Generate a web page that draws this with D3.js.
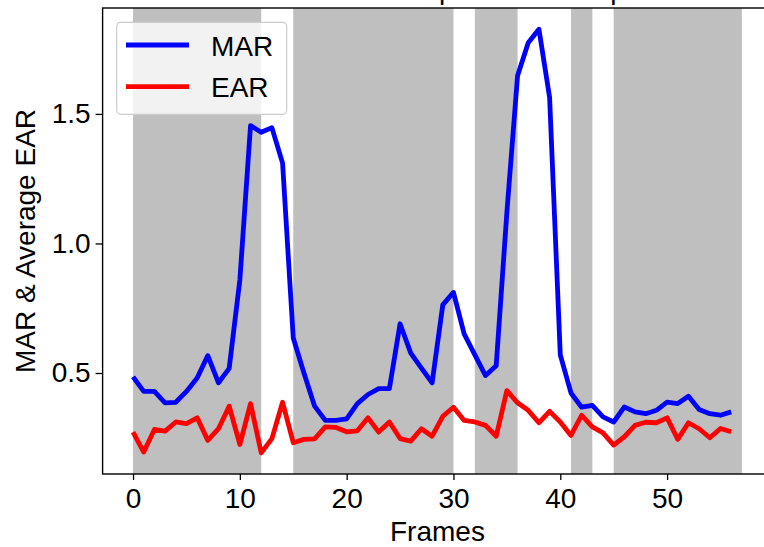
<!DOCTYPE html>
<html>
<head>
<meta charset="utf-8">
<script src="https://cdn.jsdelivr.net/npm/d3@7"></script>
<style>
  body { margin: 0; background: #fff; }
  svg { display: block; font-family: "Liberation Sans", Arial, sans-serif; }
</style>
</head>
<body>
<script>
// ---- data ----
const frames = d3.range(0, 57);
const marValues = [0.485, 0.429, 0.429, 0.385, 0.387, 0.429, 0.481, 0.567, 0.462, 0.518,
  0.859, 1.455, 1.429, 1.447, 1.31, 0.635, 0.5, 0.372, 0.317, 0.317,
  0.323, 0.382, 0.417, 0.44, 0.44, 0.69, 0.577, 0.519, 0.462, 0.763,
  0.811, 0.651, 0.57, 0.49, 0.528, 1.12, 1.647, 1.775, 1.827, 1.564,
  0.57, 0.423, 0.368, 0.375, 0.331, 0.311, 0.369, 0.35, 0.343, 0.356,
  0.388, 0.382, 0.41, 0.359, 0.343, 0.337, 0.35];
const earValues = [0.272, 0.195, 0.282, 0.276, 0.311, 0.305, 0.327, 0.24, 0.285, 0.372,
  0.224, 0.382, 0.192, 0.247, 0.387, 0.231, 0.244, 0.246, 0.292, 0.29,
  0.273, 0.277, 0.327, 0.272, 0.311, 0.247, 0.237, 0.285, 0.256, 0.333,
  0.368, 0.317, 0.311, 0.298, 0.256, 0.432, 0.385, 0.356, 0.308, 0.352,
  0.311, 0.259, 0.337, 0.292, 0.269, 0.222, 0.254, 0.298, 0.31, 0.308,
  0.327, 0.244, 0.308, 0.285, 0.25, 0.286, 0.273];
// shaded frame ranges
const spanStart = [0, 15, 32, 41, 45];
const spanEnd = [12, 30, 36, 43, 57];
const xTicks = [0, 10, 20, 30, 40, 50];
const yTicks = [0.5, 1.0, 1.5];

const width = 764, height = 547;
// axes box (right edge sits outside the picture, like the original crop)
const axLeft = 102.6, axRight = 772.3, axTop = 8, axBottom = 474;

const svg = d3.select('body').append('svg')
  .attr('width', width)
  .attr('height', height);

// matplotlib style 5% margins
const xMin = 0, xMax = d3.max(spanEnd);
const xPad = (xMax - xMin) * 0.05;
const x = d3.scaleLinear().domain([xMin - xPad, xMax + xPad]).range([axLeft, axRight]);

const allY = marValues.concat(earValues);
const yLo = d3.min(allY), yHi = d3.max(allY);
const yPad = (yHi - yLo) * 0.05;
const y = d3.scaleLinear().domain([yLo - yPad, yHi + yPad]).range([axBottom, axTop]);

// ---- shaded spans ----
svg.append('g')
  .selectAll('rect')
  .data(spanStart.map((s, i) => [s, spanEnd[i]]))
  .join('rect')
    .attr('x', d => x(d[0]))
    .attr('y', axTop)
    .attr('width', d => x(d[1]) - x(d[0]))
    .attr('height', axBottom - axTop)
    .attr('fill', '#bfbfbf');

// ---- lines ----
const line = vals => d3.line()
  .x((d, i) => x(frames[i]))
  .y(d => y(d))(vals);

svg.append('path')
  .attr('d', line(marValues))
  .attr('fill', 'none')
  .attr('stroke', '#0000ff')
  .attr('stroke-width', 4.8)
  .attr('stroke-linejoin', 'round');

svg.append('path')
  .attr('d', line(earValues))
  .attr('fill', 'none')
  .attr('stroke', '#ff0000')
  .attr('stroke-width', 4.8)
  .attr('stroke-linejoin', 'round');

// ---- axes ----
const xAxis = svg.append('g')
  .attr('transform', `translate(0,${axBottom})`)
  .call(d3.axisBottom(x).tickValues(xTicks).tickSize(6).tickPadding(8));
const yAxis = svg.append('g')
  .attr('transform', `translate(${axLeft},0)`)
  .call(d3.axisLeft(y).tickValues(yTicks).tickFormat(d3.format('.1f')).tickSize(7).tickPadding(5));

[xAxis, yAxis].forEach(a => {
  a.select('.domain').remove();
  a.selectAll('line').attr('stroke', '#000').attr('stroke-width', 1.3);
  a.selectAll('text')
    .attr('fill', '#000')
    .style('font-size', '28px')
    .style('font-family', '"Liberation Sans", Arial, sans-serif');
});

// spines
svg.append('rect')
  .attr('x', axLeft).attr('y', axTop)
  .attr('width', axRight - axLeft).attr('height', axBottom - axTop)
  .attr('fill', 'none')
  .attr('stroke', '#000')
  .attr('stroke-width', 1.4);

// ---- labels ----
svg.append('text')
  .attr('x', (axLeft + axRight) / 2)
  .attr('y', 541)
  .attr('text-anchor', 'middle')
  .style('font-size', '28px')
  .text('Frames');

svg.append('text')
  .attr('transform', `translate(35,${(axTop + axBottom) / 2}) rotate(-90)`)
  .attr('text-anchor', 'middle')
  .style('font-size', '28px')
  .text('MAR & Average EAR');

// title, mostly above the top of the picture
svg.append('text')
  .attr('x', (axLeft + axRight) / 2)
  .attr('y', -1)
  .attr('text-anchor', 'middle')
  .style('font-size', '28px')
  .text('MAR and EAR plot for this clip');

// ---- legend ----
const legend = svg.append('g');
legend.append('rect')
  .attr('x', 116.7).attr('y', 22.3)
  .attr('width', 170).attr('height', 92)
  .attr('rx', 4)
  .attr('fill', '#fff').attr('fill-opacity', 0.8)
  .attr('stroke', '#cccccc').attr('stroke-width', 1.2);

const legendItems = [['MAR', '#0000ff'], ['EAR', '#ff0000']];
legendItems.forEach((item, i) => {
  const ly = 45 + i * 41.7;
  legend.append('line')
    .attr('x1', 126).attr('x2', 189)
    .attr('y1', ly).attr('y2', ly)
    .attr('stroke', item[1])
    .attr('stroke-width', 4.8);
  legend.append('text')
    .attr('x', 211)
    .attr('y', ly + 10.5)
    .style('font-size', '28px')
    .text(item[0]);
});
</script>
</body>
</html>
